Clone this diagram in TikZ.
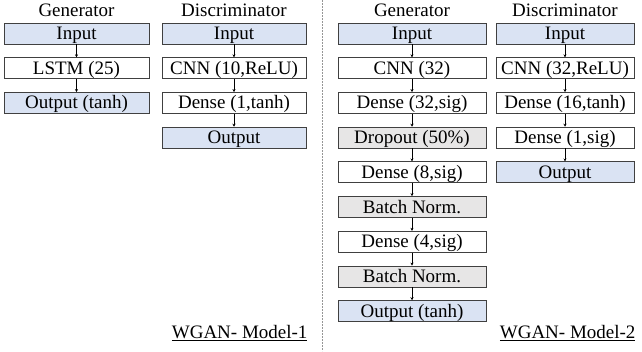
\documentclass[tikz,border=0pt]{standalone}
\usepackage{fontspec}
\setmainfont{Liberation Serif}
\usetikzlibrary{positioning,arrows.meta}
\definecolor{boxBlue}{RGB}{218,227,243}
\definecolor{boxGray}{RGB}{231,230,230}
\definecolor{lineGray}{RGB}{64,64,64}
\definecolor{divGray}{RGB}{150,150,150}

\tikzset{
  layer/.style={draw=lineGray, line width=0.7pt, minimum height=21pt, inner sep=0pt,
    text height=14pt, text depth=2pt, font=\fontsize{19}{21}\selectfont},
  io/.style={layer, fill=boxBlue},
  reg/.style={layer, fill=boxGray},
  flow/.style={-{Stealth[length=3pt,width=3pt]}, line width=0.5pt, black},
  title/.style={font=\fontsize{19}{21}\selectfont}
}

\begin{document}
\begin{tikzpicture}[x=1pt,y=-1pt]
    \useasboundingbox (0,0) rectangle (642,351);
    % model 1
    \node[title] (g1title) at (76.5,10) {Generator};
    \node[io, minimum width=145pt] (g1in) at (76.5,33.5) {Input};
    \node[layer, minimum width=145pt, below=13pt of g1in] (g1lstm) {LSTM (25)};
    \node[io, minimum width=145pt, below=13pt of g1lstm] (g1out) {Output (tanh)};

    \node[title] (d1title) at (234,10) {Discriminator};
    \node[io, minimum width=144pt] (d1in) at (234,33.5) {Input};
    \node[layer, minimum width=144pt, below=13pt of d1in] (d1cnn) {CNN (10,ReLU)};
    \node[layer, minimum width=144pt, below=13pt of d1cnn] (d1dense) {Dense (1,tanh)};
    \node[io, minimum width=144pt, below=13pt of d1dense] (d1out) {Output};

    \node[title, anchor=east] (m1label) at (311,333) {\underline{WGAN- Model-1}};

    % divider
    \coordinate (divTop) at (322,0);
    \coordinate (divBot) at (322,351);
    \draw[divGray, line width=0.8pt, dash pattern=on 2pt off 1pt] (divTop) -- (divBot);

    % model 2
    \node[title] (g2title) at (412,10) {Generator};
    \node[io, minimum width=148pt] (g2in) at (412,33.5) {Input};
    \node[layer, minimum width=148pt, below=13pt of g2in] (g2cnn) {CNN (32)};
    \node[layer, minimum width=148pt, below=13pt of g2cnn] (g2dA) {Dense (32,sig)};
    \node[reg, minimum width=148pt, below=13pt of g2dA] (g2drop) {Dropout (50\%)};
    \node[layer, minimum width=148pt, below=13pt of g2drop] (g2dB) {Dense (8,sig)};
    \node[reg, minimum width=148pt, below=13pt of g2dB] (g2bnA) {Batch Norm.};
    \node[layer, minimum width=148pt, below=13pt of g2bnA] (g2dC) {Dense (4,sig)};
    \node[reg, minimum width=148pt, below=13pt of g2dC] (g2bnB) {Batch Norm.};
    \node[io, minimum width=148pt, below=13pt of g2bnB] (g2out) {Output (tanh)};

    \node[title] (d2title) at (565,10) {Discriminator};
    \node[io, minimum width=138pt] (d2in) at (565,33.5) {Input};
    \node[layer, minimum width=138pt, below=13pt of d2in] (d2cnn) {CNN (32,ReLU)};
    \node[layer, minimum width=138pt, below=13pt of d2cnn] (d2dA) {Dense (16,tanh)};
    \node[layer, minimum width=138pt, below=13pt of d2dA] (d2dB) {Dense (1,sig)};
    \node[io, minimum width=138pt, below=13pt of d2dB] (d2out) {Output};

    \node[title, anchor=east] (m2label) at (639,333) {\underline{WGAN- Model-2}};

    % arrows
    \foreach \a/\b in {g1in/g1lstm,g1lstm/g1out,d1in/d1cnn,d1cnn/d1dense,d1dense/d1out,
        g2in/g2cnn,g2cnn/g2dA,g2dA/g2drop,g2drop/g2dB,g2dB/g2bnA,g2bnA/g2dC,g2dC/g2bnB,g2bnB/g2out,
        d2in/d2cnn,d2cnn/d2dA,d2dA/d2dB,d2dB/d2out} {
       \draw[flow] (\a) -- (\b);
     }
\end{tikzpicture}
\end{document}
